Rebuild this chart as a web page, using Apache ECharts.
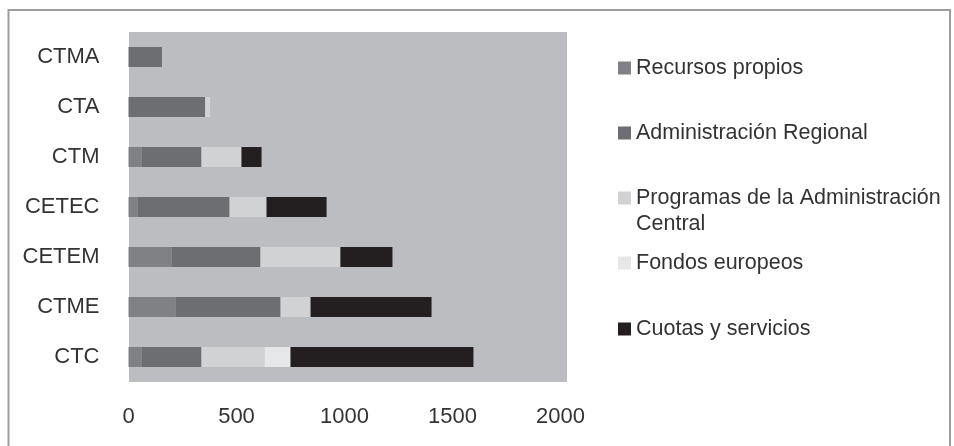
<!DOCTYPE html>
<html>
<head>
<meta charset="utf-8">
<script src="https://cdn.jsdelivr.net/npm/echarts@6/dist/echarts.min.js"></script>
<style>
  html, body { margin: 0; padding: 0; background: #fff; }
  #main { width: 954px; height: 446px; }
</style>
</head>
<body>
<div id="main"></div>
<script>
// categorias de abajo hacia arriba
const categories = ['CTC', 'CTME', 'CETEM', 'CETEC', 'CTM', 'CTA', 'CTMA'];
const recursosPropios = [60, 218, 199, 42, 60, 0, 0];
const adminRegional = [278, 486, 412, 426, 278, 355, 155];
const programasCentral = [292, 139, 370, 171, 185, 23, 0];
const fondosEuropeos = [120, 0, 0, 0, 0, 0, 0];
const cuotasServicios = [847, 560, 241, 278, 93, 0, 0];
const xTicks = [0, 500, 1000, 1500, 2000];

const seriesDefs = [
  { name: 'Recursos propios', data: recursosPropios, color: '#808184', top: 50 },
  { name: 'Administración Regional', data: adminRegional, color: '#6d6e71', top: 115 },
  { name: 'Programas de la Administración Central', data: programasCentral, color: '#d1d2d4', top: 180, twoLine: true },
  { name: 'Fondos europeos', data: fondosEuropeos, color: '#e6e7e8', top: 245 },
  { name: 'Cuotas y servicios', data: cuotasServicios, color: '#231f20', top: 311 }
];

const font = 'Liberation Sans, Arial, sans-serif';
const textColor = '#333';

const chart = echarts.init(document.getElementById('main'), null, { renderer: 'canvas' });

const legends = seriesDefs.map(s => ({
  data: [s.name],
  orient: 'vertical',
  left: 613,
  top: s.top,
  selectedMode: false,
  itemWidth: 13,
  itemHeight: s.twoLine ? 39 : 13,
  itemGap: 8,
  icon: s.twoLine ? 'path://M0,0L13,0L13,13L0,13ZM0,38.9L0.1,39L0,39Z' : 'rect',
  formatter: s.twoLine ? () => 'Programas de la Administración\nCentral' : undefined,
  textStyle: { fontFamily: font, fontSize: 21.5, color: textColor, lineHeight: 26 }
}));

chart.setOption({
  animation: false,
  backgroundColor: '#fff',
  graphic: [
    {
      type: 'rect', z: -10, silent: true,
      shape: { x: 129, y: 32, width: 438, height: 350 },
      style: { fill: '#bcbdc0' }
    },
    {
      type: 'rect', z: 100, silent: true,
      shape: { x: 8.5, y: 10, width: 941.5, height: 460 },
      style: { fill: 'none', stroke: '#9d9d9d', lineWidth: 2 }
    }
  ],
  legend: legends,
  grid: { left: 128.5, right: 954 - 560.5, top: 32, bottom: 64, containLabel: false },
  xAxis: {
    type: 'value',
    min: xTicks[0],
    max: xTicks[xTicks.length - 1],
    interval: 500,
    axisLine: { show: false },
    axisTick: { show: false },
    splitLine: { show: false },
    axisLabel: {
      fontFamily: font, fontSize: 22, color: textColor, margin: 24,
      formatter: v => String(v)
    }
  },
  yAxis: {
    type: 'category',
    data: categories,
    axisLine: { show: false },
    axisTick: { show: false },
    splitLine: { show: false },
    axisLabel: { fontFamily: font, fontSize: 22, color: textColor, margin: 29 }
  },
  series: seriesDefs.map(s => ({
    name: s.name,
    type: 'bar',
    stack: 'total',
    barWidth: 20,
    data: s.data,
    itemStyle: { color: s.color },
    emphasis: { disabled: true }
  }))
});
</script>
</body>
</html>
